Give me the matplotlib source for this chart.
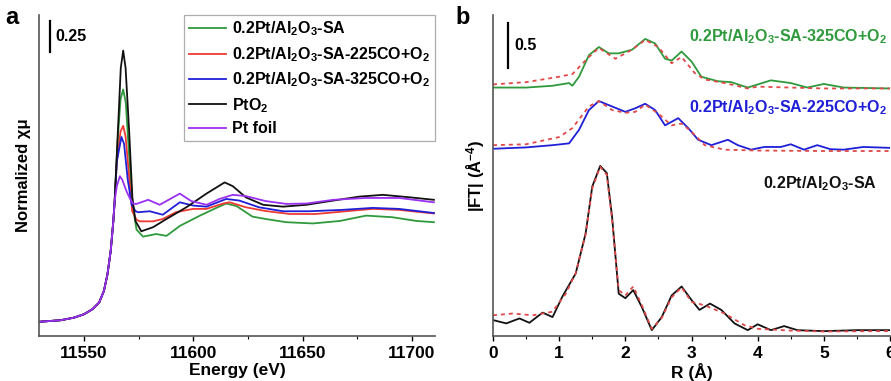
import numpy as np
import matplotlib.pyplot as plt

plt.rcParams['font.family'] = ['Liberation Sans', 'DejaVu Sans']
plt.rcParams['font.weight'] = 'bold'
plt.rcParams['mathtext.fontset'] = 'custom'
plt.rcParams['mathtext.rm'] = 'Liberation Sans:bold'
plt.rcParams['mathtext.it'] = 'Liberation Sans:bold'
plt.rcParams['mathtext.bf'] = 'Liberation Sans:bold'
plt.rcParams['mathtext.default'] = 'rm'

# ---------------- panel a: XANES ----------------
# shared pre-edge / rising edge
e_edge = [11530, 11539.4, 11545.5, 11550, 11553.8, 11556.9, 11559.1, 11560.7, 11562.2, 11563.4, 11564]
mu_edge = [0.01, 0.022, 0.043, 0.07, 0.11, 0.164, 0.258, 0.39, 0.58, 0.82, 0.98]

e_sa = [11565.3, 11566.7, 11567.9, 11569.1, 11570.6, 11572.2, 11574, 11577, 11583, 11587.7, 11593.8,
        11603, 11610.5, 11615, 11619.7, 11627, 11633, 11642.5, 11654.7, 11667, 11679, 11691, 11702, 11710]
mu_sa = [1.45, 1.8, 1.877, 1.77, 1.35, 0.95, 0.75, 0.694, 0.715, 0.70, 0.78,
         0.863, 0.925, 0.96, 0.94, 0.855, 0.836, 0.81, 0.80, 0.82, 0.863, 0.85, 0.82, 0.81]

e_225 = [11565, 11566.7, 11567.9, 11569, 11570.5, 11572, 11574, 11575.5, 11581.6, 11586, 11592,
         11599.8, 11606, 11613.6, 11616.6, 11624, 11633, 11644, 11656, 11671, 11682, 11694, 11710]
mu_225 = [1.3, 1.54, 1.585, 1.5, 1.2, 0.9, 0.83, 0.817, 0.817, 0.836, 0.89,
          0.917, 0.917, 0.96, 0.97, 0.93, 0.90, 0.876, 0.876, 0.90, 0.917, 0.909, 0.88]

e_325 = [11565, 11567.1, 11568.3, 11570, 11571.8, 11573.5, 11574.7, 11580, 11586, 11593.8, 11599.8,
         11606, 11615, 11621, 11630, 11641, 11653, 11668, 11682, 11694, 11710]
mu_325 = [1.3, 1.495, 1.44, 1.15, 0.95, 0.9, 0.89, 0.898, 0.87, 0.97, 0.944,
          0.935, 0.997, 0.984, 0.93, 0.898, 0.898, 0.909, 0.925, 0.917, 0.884]

e_pto2 = [11565.5, 11566.8, 11567.9, 11569, 11570.6, 11572.1, 11573.5, 11576.2, 11581.6, 11587.7, 11596.8,
          11606, 11614.3, 11618, 11624, 11631.9, 11641, 11651.7, 11664, 11676, 11686.7, 11699, 11710]
mu_pto2 = [1.55, 2.05, 2.19, 2.05, 1.55, 1.01, 0.82, 0.737, 0.77, 0.836, 0.93,
           1.04, 1.13, 1.10, 1.01, 0.95, 0.935, 0.95, 0.984, 1.016, 1.03, 1.01, 0.99]

e_foil = [11565, 11566.4, 11567.5, 11569.4, 11571, 11572.4, 11574, 11579.3, 11584.6, 11593.8, 11599,
          11606, 11612, 11618, 11624, 11633, 11642.5, 11651.7, 11664, 11679, 11694, 11710]
mu_foil = [1.1, 1.18, 1.15, 1.06, 1.0, 0.96, 0.957, 0.99, 0.95, 1.04, 0.98,
           0.95, 0.997, 1.03, 1.02, 0.98, 0.957, 0.96, 0.99, 1.005, 1.005, 0.97]

xanes_labels = [r'0.2Pt/Al$_2$O$_3$-SA', r'0.2Pt/Al$_2$O$_3$-SA-225CO+O$_2$',
                r'0.2Pt/Al$_2$O$_3$-SA-325CO+O$_2$', r'PtO$_2$', 'Pt foil']
xanes_colors = ['#2f9a3c', '#ee3a33', '#1f1fd8', '#111111', '#9a30f0']

# ---------------- panel b: EXAFS FT ----------------
r_sa = [0, 0.2, 0.4, 0.55, 0.75, 0.9, 1.05, 1.25, 1.4, 1.5, 1.62, 1.72, 1.8, 1.9, 2.0, 2.12, 2.25, 2.4,
        2.55, 2.7, 2.85, 3.0, 3.12, 3.28, 3.45, 3.65, 3.85, 4.0, 4.2, 4.4, 4.6, 5.0, 5.5, 6.0]
ft_sa = [0.167, 0.13, 0.185, 0.137, 0.25, 0.20, 0.43, 0.685, 1.13, 1.65, 1.88, 1.80, 1.31, 0.46, 0.41, 0.50,
         0.31, 0.055, 0.20, 0.44, 0.54, 0.39, 0.28, 0.35, 0.28, 0.13, 0.055, 0.12, 0.055, 0.10, 0.055, 0.044,
         0.055, 0.055]
r_sa_fit = [0, 0.3, 0.6, 0.9, 1.1, 1.25, 1.4, 1.5, 1.62, 1.72, 1.8, 1.9, 2.0, 2.12, 2.25, 2.4,
            2.55, 2.7, 2.85, 3.0, 3.2, 3.5, 3.8, 4.0, 4.5, 5.0, 6.0]
ft_sa_fit = [0.22, 0.24, 0.22, 0.26, 0.46, 0.69, 1.12, 1.63, 1.87, 1.78, 1.28, 0.5, 0.44, 0.54,
             0.33, 0.07, 0.19, 0.42, 0.53, 0.37, 0.33, 0.24, 0.11, 0.07, 0.05, 0.04, 0.045]

r_225 = [0, 0.5, 0.9, 1.15, 1.3, 1.45, 1.6, 1.8, 2.0, 2.15, 2.3, 2.45, 2.6, 2.8, 2.95, 3.1, 3.3, 3.55,
         3.7, 3.9, 4.1, 4.35, 4.5, 4.7, 4.9, 5.1, 5.3, 5.6, 6.0]
ft_225 = [2.07, 2.085, 2.11, 2.13, 2.28, 2.5, 2.60, 2.54, 2.48, 2.52, 2.57, 2.5, 2.33, 2.41, 2.30, 2.17,
          2.11, 2.17, 2.11, 2.06, 2.09, 2.09, 2.12, 2.06, 2.11, 2.065, 2.06, 2.09, 2.08]
r_225_fit = [0, 0.5, 1.0, 1.2, 1.45, 1.6, 1.8, 2.0, 2.15, 2.3, 2.5, 2.7, 2.85, 3.0, 3.2, 3.5, 4.0, 5.0, 6.0]
ft_225_fit = [2.11, 2.12, 2.2, 2.3, 2.54, 2.60, 2.5, 2.47, 2.48, 2.56, 2.46, 2.33, 2.35, 2.26, 2.11,
              2.06, 2.05, 2.045, 2.045]

r_325 = [0, 0.5, 0.9, 1.15, 1.2, 1.3, 1.45, 1.6, 1.75, 1.9, 2.1, 2.3, 2.45, 2.6, 2.7, 2.85, 3.0, 3.15,
         3.4, 3.6, 3.85, 4.2, 4.5, 4.75, 5.0, 5.3, 6.0]
ft_325 = [2.75, 2.75, 2.77, 2.80, 2.77, 2.87, 3.11, 3.2, 3.13, 3.13, 3.17, 3.29, 3.24, 3.07, 3.05, 3.15,
          3.04, 2.87, 2.82, 2.81, 2.75, 2.83, 2.80, 2.75, 2.79, 2.75, 2.74]
r_325_fit = [0, 0.5, 1.0, 1.2, 1.45, 1.6, 1.85, 2.1, 2.3, 2.5, 2.7, 2.85, 3.05, 3.2, 3.5, 3.85, 4.0,
             4.5, 5.0, 6.0]
ft_325_fit = [2.785, 2.81, 2.87, 2.9, 3.09, 3.19, 3.07, 3.17, 3.28, 3.2, 3.02, 3.09, 2.91, 2.84, 2.8,
              2.74, 2.76, 2.75, 2.74, 2.74]

ft_labels = [r'0.2Pt/Al$_2$O$_3$-SA-325CO+O$_2$', r'0.2Pt/Al$_2$O$_3$-SA-225CO+O$_2$',
             r'0.2Pt/Al$_2$O$_3$-SA']
ft_colors = ['#2f9a3c', '#1f1fd8', '#111111']
fit_color = '#e04848'

fig = plt.figure(figsize=(8.91, 3.81), dpi=100)
ax1 = fig.add_axes([39 / 891, 45 / 381, 396 / 891, 321 / 381])
ax2 = fig.add_axes([493 / 891, 45 / 381, 397 / 891, 321 / 381])

series = [(e_sa, mu_sa), (e_225, mu_225), (e_325, mu_325), (e_pto2, mu_pto2), (e_foil, mu_foil)]
for (e, mu), lab, col in zip(series, xanes_labels, xanes_colors):
    ax1.plot(e_edge + e, mu_edge + mu, color=col, lw=1.3, label=lab)

ax1.set_xlim(11529.4, 11710.5)
ax1.set_ylim(-0.105, 2.476)
ax1.set_xticks([11550, 11600, 11650, 11700])
ax1.set_xticks([11575, 11625, 11675], minor=True)
ax1.set_yticks([])
ax1.set_xlabel('Energy (eV)', fontsize=12.5, fontweight='bold', labelpad=1)
ax1.set_ylabel('Normalized χμ', fontsize=12, fontweight='bold', labelpad=6)
leg = ax1.legend(loc='upper right', bbox_to_anchor=(1.0, 1.0), borderaxespad=0, fontsize=11.5,
                 fancybox=False, edgecolor='#999999', handlelength=2.3, labelspacing=0.42,
                 borderpad=0.3, handletextpad=0.4)
leg.get_frame().set_linewidth(0.9)
# scale bar
ax1.plot([11534.4, 11534.4], [2.18, 2.43], color='black', lw=1.6)
ax1.text(11537, 2.305, '0.25', fontsize=11.5, fontweight='bold', va='center', ha='left')

ax2.plot(r_325, ft_325, color=ft_colors[0], lw=1.3)
ax2.plot(r_225, ft_225, color=ft_colors[1], lw=1.3)
ax2.plot(r_sa, ft_sa, color=ft_colors[2], lw=1.3)
for r, f in [(r_325_fit, ft_325_fit), (r_225_fit, ft_225_fit), (r_sa_fit, ft_sa_fit)]:
    ax2.plot(r, f, color=fit_color, lw=1.3, ls=(0, (2.2, 2.2)))

ax2.set_xlim(0, 6)
ax2.set_ylim(-0.01, 3.556)
ax2.set_xticks([0, 1, 2, 3, 4, 5, 6])
ax2.set_xticks([0.5, 1.5, 2.5, 3.5, 4.5, 5.5], minor=True)
ax2.set_yticks([])
ax2.set_xlabel('R (Å)', fontsize=12.5, fontweight='bold', labelpad=1)
ax2.set_ylabel(r'|FT| (Å$^{-4}$)', fontsize=12, fontweight='bold', labelpad=4)
ax2.plot([0.23, 0.23], [2.97, 3.47], color='black', lw=1.6)
ax2.text(0.32, 3.22, '0.5', fontsize=11.5, fontweight='bold', va='center', ha='left')
ax2.text(5.95, 3.31, ft_labels[0], color=ft_colors[0], fontsize=11.5, fontweight='bold', ha='right', va='center')
ax2.text(5.95, 2.53, ft_labels[1], color=ft_colors[1], fontsize=11.5, fontweight='bold', ha='right', va='center')
ax2.text(5.8, 1.68, ft_labels[2], color=ft_colors[2], fontsize=11.5, fontweight='bold', ha='right', va='center')

for ax in (ax1, ax2):
    ax.spines['top'].set_visible(False)
    ax.spines['right'].set_visible(False)
    for s in ('left', 'bottom'):
        ax.spines[s].set_color('#555555')
        ax.spines[s].set_linewidth(1.2)
    ax.tick_params(axis='x', which='major', length=3.5, width=1, direction='out', labelsize=12.5, pad=4)
    ax.tick_params(axis='x', which='minor', length=2.5, width=0.8, direction='out')
    for t in ax.get_xticklabels():
        t.set_fontweight('bold')

fig.text(5 / 891, 1 - 18 / 381, 'a', fontsize=17, fontweight='bold', va='center')
fig.text(455 / 891, 1 - 18 / 381, 'b', fontsize=17, fontweight='bold', va='center')

fig.savefig('out.png', dpi=100)
